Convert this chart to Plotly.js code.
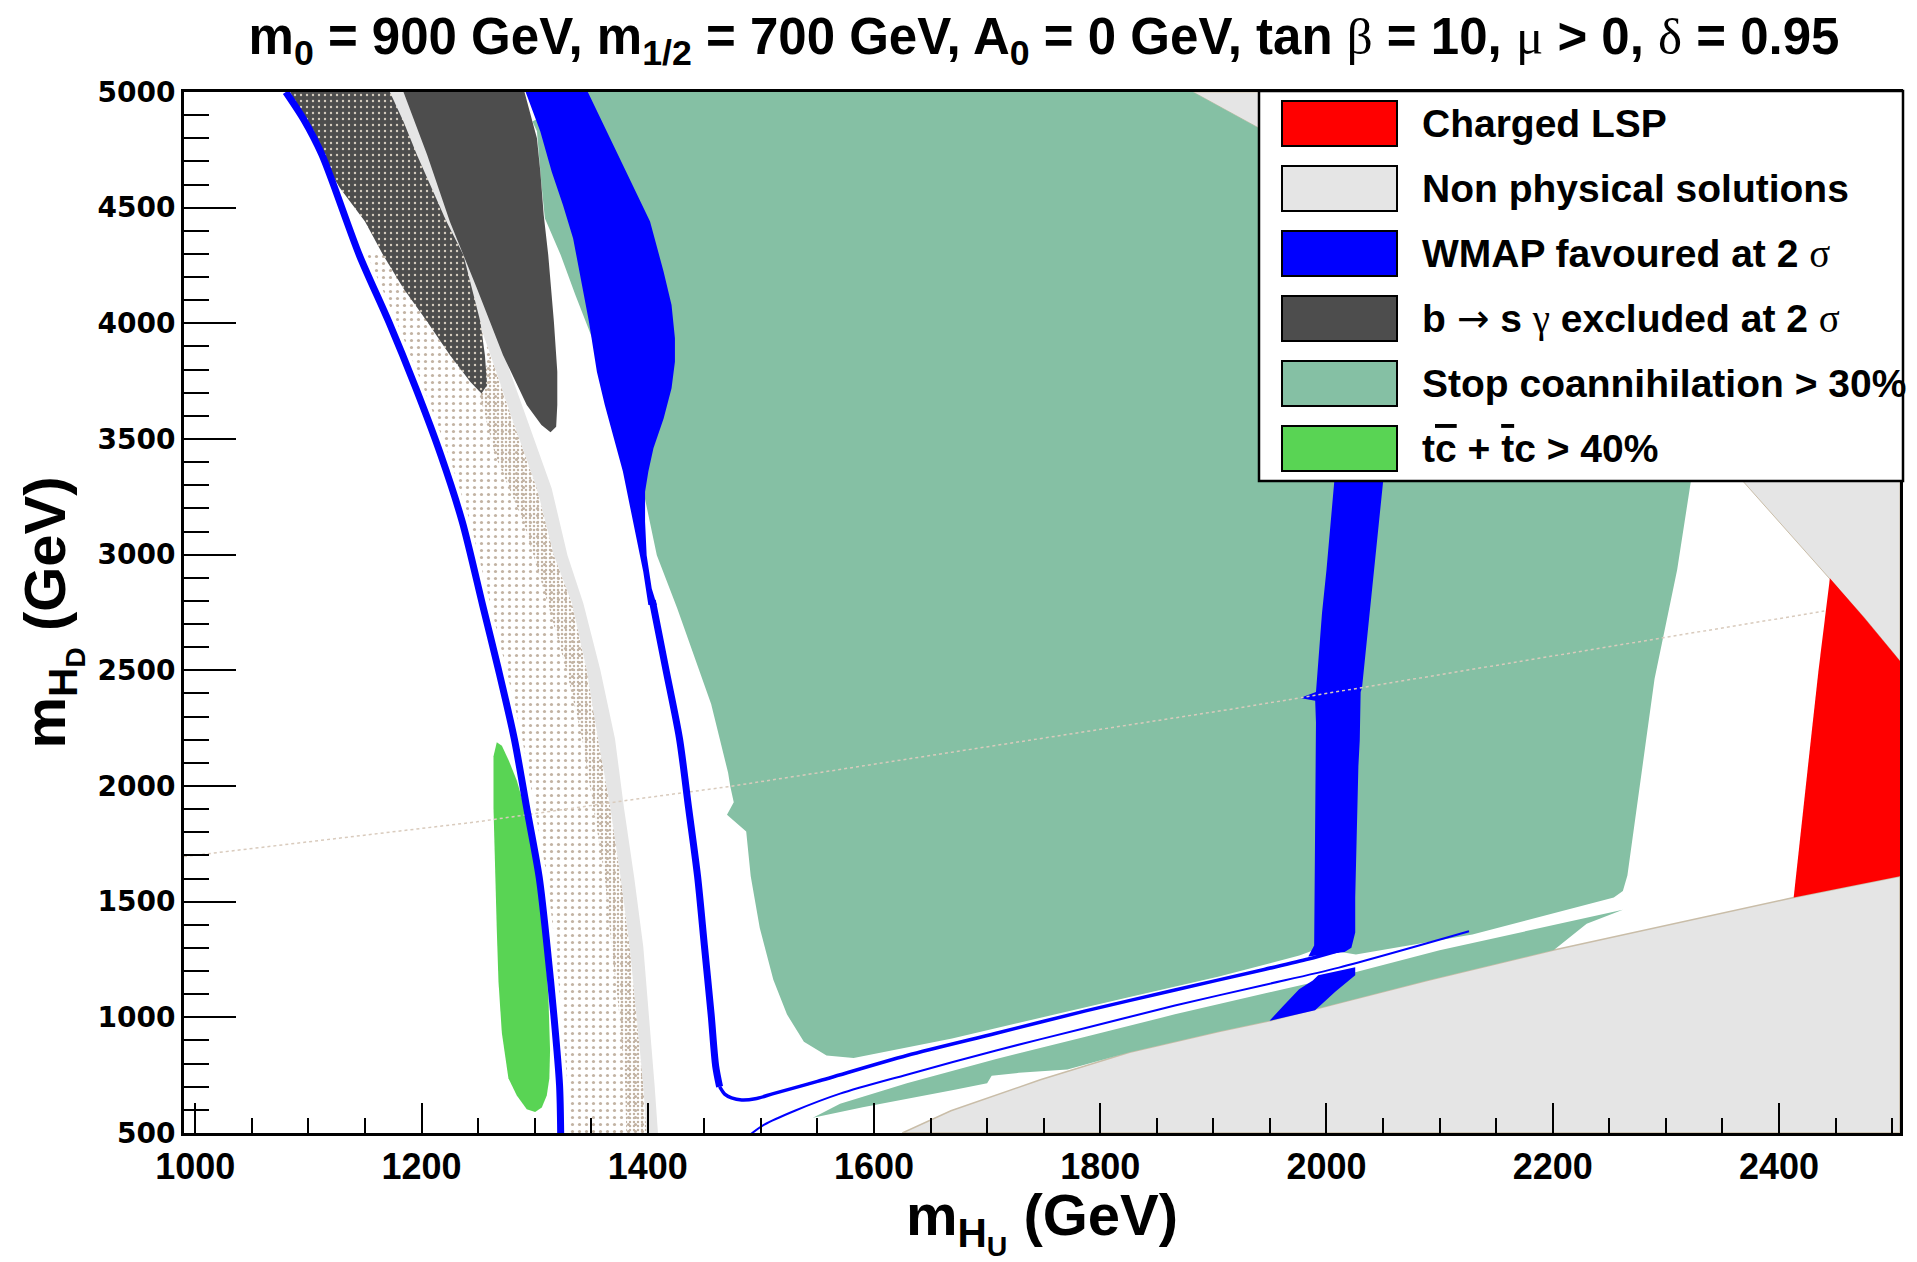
<!DOCTYPE html>
<html><head><meta charset="utf-8">
<script src="https://cdn.plot.ly/plotly-3.0.1.min.js"></script>
<style>body{margin:0;background:#fff}</style>
</head><body><div id="chart" style="width:1917px;height:1262px"></div>
<script>
// ---------------- data (GeV) ----------------
const xTicks = [1000,1200,1400,1600,1800,2000,2200,2400];
const yTicks = [500,1000,1500,2000,2500,3000,3500,4000,4500,5000];

const legendLabels = [
  'Charged LSP',
  'Non physical solutions',
  'WMAP favoured at 2 <span style="font-family:Liberation Serif;font-weight:normal">σ</span>',
  'b <span style="font-family:DejaVu Sans;font-weight:normal">→</span> s <span style="font-family:Liberation Serif;font-weight:normal">γ</span> excluded at 2 <span style="font-family:Liberation Serif;font-weight:normal">σ</span>',
  'Stop coannihilation &gt; 30%',
  't<span style="text-decoration:overline">c</span> + <span style="text-decoration:overline">t</span>c &gt; 40%'
];
const legendColors = ['#ff0000','#e5e5e5','#0000ff','#4d4d4d','#85c0a4','#59d454'];

// non physical solutions (light grey)
const nonPhysLowX = [1625,1668,1747,1826,1905,1950,2011,2089,2201,2290,2413,2507,2507,1625];
const nonPhysLowY = [500,596,730,849,939,985,1062,1159,1291,1386,1518,1610,500,500];
const nonPhysUpX = [1882,1938,2050,2200,2330,2369,2407,2445,2475,2501,2507,2507];
const nonPhysUpY = [5000,4850,4550,4050,3600,3313,3105,2898,2730,2576,2540,5000];
const nonPhysBandX = [1172,1196,1218,1240,1261,1281,1302,1317,1333,1346,1356,1367,1376,1384,1390,1396,1399,
                      1409,1406,1401,1396,1388,1379,1371,1358,1343,1329,1315,1294,1273,1250,1226,1206,1184];
const nonPhysBandY = [5000,4728,4440,4151,3863,3575,3287,2998,2790,2503,2204,1904,1605,1306,1007,707,500,
                      500,707,1007,1306,1605,1904,2204,2503,2790,2998,3287,3575,3863,4151,4440,4728,5000];

// scattered (speckled) points band
const speckleX = [1152,1178,1202,1224,1243,1261,1275,1289,1300,1311,1318,1324,1329,1329,
                  1399,1396,1390,1384,1376,1367,1356,1346,1333,1317,1302,1281,1261,1240,1225];
const speckleY = [4295,4007,3719,3431,3142,2782,2503,2204,1904,1605,1306,1007,707,500,
                  500,707,1007,1306,1605,1904,2204,2503,2790,2998,3287,3575,3863,4151,4440];
const speckleDenseX = [1250,1265,1290,1312,1328,1342,1352,1362,1368,1375,1380,1381,
                       1399,1396,1390,1384,1376,1367,1356,1346,1333,1317,1302,1281,1261];
const speckleDenseY = [3719,3431,3142,2782,2503,2204,1904,1605,1306,1007,707,500,
                       500,707,1007,1306,1605,1904,2204,2503,2790,2998,3287,3575,3863];

// b -> s gamma excluded (dark grey)
const bsg1X = [1084,1107,1128,1150,1166,1184,1205,1225,1243,1253,1258,1256,1252,1246,1237,1222,1209,1196,1184,1172];
const bsg1Y = [5000,4757,4584,4440,4295,4151,4007,3863,3748,3697,3733,3863,4007,4123,4295,4440,4584,4728,4872,5000];
const bsg2X = [1184,1205,1225,1249,1272,1293,1306,1314,1319,1320,1320,1317,1312,1308,1305,1302,1298,1291];
const bsg2Y = [5000,4728,4440,4151,3863,3647,3560,3529,3553,3647,3791,4007,4295,4468,4656,4800,4872,5000];

// stop coannihilation > 30% (sea green)
const stopMainX = [1344,1882,1938,2050,2200,2330,2322,2310,2298,2290,2282,2274,2266,2262,2254,2129,2048,2026,2010,
                   1988,1976,1905,1826,1747,1669,1582,1558,1538,1523,1511,1499,1491,1487,1470,1476,1473,1471,1456,1440,1426,
                   1408,1399,1395,1402,1411,1418,1421,1421,1418,1411,1399,1386,1372,1357];
const stopMainY = [5000,5000,4850,4550,4050,3500,3313,2935,2652,2463,2179,1896,1613,1546,1518,1358,1291,1272,1285,
                   1289,1267,1177,1088,998,909,824,835,894,1013,1163,1386,1610,1803,1876,1930,1997,2057,2355,2579,2768,
                   2998,3200,3300,3460,3589,3719,3834,3935,4079,4223,4440,4584,4728,4872];
const stopSliverX = [1298,1302,1306,1309,1323,1336,1352,1366,1352,1330,1308];
const stopSliverY = [4872,4830,4600,4454,4295,4123,3921,3880,4300,4600,4900];
const stopLowX = [1546,1570,1629,1708,1787,1866,1945,2011,2100,2200,2250,2262,2230,2201,2089,2011,1950,1905,1826,1771,1728,1704,1700,1669,1590];
const stopLowY = [566,626,715,820,916,1013,1103,1177,1290,1400,1452,1465,1405,1291,1159,1062,985,939,849,775,760,748,715,685,611];

// WMAP favoured (blue)
const wmapBandX = [1292,1305,1315,1325,1334,1342,1348,1355,1362,1370,1378,1384,1390,1396,1400.5,
                   1408,1403.5,1399,1397.6,1397.6,1400.5,1405,1414,1421,1424,1424,1421,1414,1402,1388,1374,1360,1347];
const wmapBandY = [5000,4829,4656,4512,4367,4151,4007,3791,3647,3503,3359,3215,3071,2926,2782,
                   2782,2854,2998,3143,3272,3359,3460,3589,3719,3834,3935,4079,4223,4440,4584,4728,4872,5000];
const wmapVertX = [2012,2006.8,2004,2000,1996,1992.7,1990.7,1976.6,1990,1990.7,1990.3,1989.9,1989.1,1983.9,
                   2016,2022,2025.4,2025.4,2026.2,2027,2028.2,2029.4,2030.2,2031.4,2034.2,2038.3,2042.3,2046.3,2050.3,2056];
const wmapVertY = [3600,3313,3124,2935,2746,2557,2406,2380,2368,2274,1896,1518,1310,1263,
                   1282,1301,1367,1518,1707,1896,2085,2198,2406,2425,2557,2746,2935,3124,3313,3600];
const wmapBlobX = [1992.7,2025.4,2025.4,2008,1989.9,1949.6,1961.7,1975.8,1987.9];
const wmapBlobY = [1182,1216,1182,1112,1031,985,1049,1121,1159];
const wmapLeftX = [1080,1096,1112,1145,1171,1195,1217,1236,1254,1268,1282,1293,1304,1311,1317,1322,1323];
const wmapLeftY = [5000,4880,4728,4295,4007,3719,3431,3142,2782,2503,2204,1904,1605,1306,1007,707,500];
const wmapStemX = [1404,1416,1428,1436,1444,1450,1456,1460,1463.5];
const wmapStemY = [2802,2504,2206,1908,1610,1312,1013,790,700];
const wmapCurveAX = [1463.5,1468,1474,1483,1495,1511,1550,1629,1708,1787,1866,1945,1984,2011];
const wmapCurveAY = [700,668,652,643,648,670,723,835,931,1028,1118,1207,1252,1289];
const wmapCurveBX = [1491,1503,1530,1570,1629,1708,1787,1866,1945,2011,2126];
const wmapCurveBY = [495,536,596,670,752,857,954,1051,1140,1215,1372];

// charged LSP (red)
const lspX = [2445,2441,2435,2429,2423,2417,2413,2507,2507,2501,2475];
const lspY = [2898,2746,2501,2236,1972,1707,1518,1610,2540,2576,2730];

// t cbar + tbar c > 40% (light green)
const tcX = [1266.5,1263.6,1263.6,1265,1266.5,1268,1271,1276.8,1284.2,1293,1300.4,1306.3,1310.7,1313,1313.6,1312.2,1309.2,1304.8,1299,1293,1284.2,1276.8,1271];
const tcY = [2189,2129,1904,1605,1381,1156,932,737,662,603,591,610,662,737,857,1081,1306,1530,1755,1875,2024,2114,2174];

// faint dotted artefact line
const artX = [990,1249,1392,1471,1917,2290,2440];
const artY = [1695,1845,1945,1997,2333,2633,2756];

// ---------------- drawing ----------------
function poly(x, y, color, extra) {
  return Object.assign({type:'scatter', mode:'lines', x:x.concat([x[0]]), y:y.concat([y[0]]),
    fill:'toself', fillcolor:color, line:{width:0, color:color}, hoverinfo:'skip', showlegend:false}, extra||{});
}
function line(x, y, color, w, extra) {
  return Object.assign({type:'scatter', mode:'lines', x:x, y:y, line:{color:color, width:w, shape:'spline', smoothing:0.8},
    hoverinfo:'skip', showlegend:false}, extra||{});
}

const traces = [
  poly(speckleX, speckleY, 'rgba(0,0,0,0)', {fillpattern:{shape:'.', fgcolor:'#c2b3a3', bgcolor:'rgba(255,255,255,0)', size:7, solidity:0.16}}),
  poly(speckleDenseX, speckleDenseY, 'rgba(0,0,0,0)', {fillpattern:{shape:'.', fgcolor:'#c2b3a3', bgcolor:'rgba(255,255,255,0)', size:4, solidity:0.3}}),
  poly(nonPhysBandX, nonPhysBandY, '#e5e5e5'),
  poly(nonPhysLowX, nonPhysLowY, '#e5e5e5', {line:{width:1.5, color:'#c9bda8'}}),
  poly(nonPhysUpX, nonPhysUpY, '#e5e5e5', {line:{width:1, color:'#c9bda8'}}),
  poly(stopMainX, stopMainY, '#85c0a4'),
  poly(stopSliverX, stopSliverY, '#85c0a4'),
  poly(stopLowX, stopLowY, '#85c0a4'),
  poly(bsg2X, bsg2Y, '#4d4d4d'),
  poly(bsg1X, bsg1Y, '#4d4d4d', {fillpattern:{shape:'.', fgcolor:'#d6cdbf', bgcolor:'#4d4d4d', size:6, solidity:0.12}}),
  poly(wmapBandX, wmapBandY, '#0000ff'),
  poly(wmapVertX, wmapVertY, '#0000ff'),
  poly(wmapBlobX, wmapBlobY, '#0000ff'),
  poly(lspX, lspY, '#ff0000'),
  poly(tcX, tcY, '#59d454'),
  line(artX, artY, '#d9cbbd', 1.5, {line:{color:'#d9cbbd', width:1.5, dash:'dot'}}),
  line(wmapLeftX, wmapLeftY, '#0000ff', 7),
  line(wmapStemX, wmapStemY, '#0000ff', 7),
  line(wmapCurveAX, wmapCurveAY, '#0000ff', 3.5),
  line(wmapCurveBX, wmapCurveBY, '#0000ff', 2)
];

// plot area in pixels
const L = 184, R = 1900, T = 92, B = 1133;
const W = 1917, H = 1262;
const fx = px => (px - L) / (R - L);
const fy = py => (B - py) / (B - T);

const shapes = [];
const annotations = [];
// legend box
shapes.push({type:'rect', xref:'paper', yref:'paper', x0:fx(1259), x1:fx(1903), y0:fy(481), y1:fy(91),
  fillcolor:'#ffffff', line:{color:'#000', width:2.5}, layer:'above'});
const rowTop = [101,166,231,296,361,426];
legendLabels.forEach((lab, i) => {
  shapes.push({type:'rect', xref:'paper', yref:'paper', x0:fx(1282), x1:fx(1397), y0:fy(rowTop[i]+45), y1:fy(rowTop[i]),
    fillcolor:legendColors[i], line:{color:'#000', width:2}, layer:'above'});
  annotations.push({xref:'paper', yref:'paper', x:fx(1420), y:fy(rowTop[i]+22.5), xanchor:'left', yanchor:'middle',
    text:lab, showarrow:false, font:{family:'Liberation Sans, Arial, sans-serif', size:39, weight:'bold', color:'#000'}});
});

const sp = s => '<span style="font-family:Liberation Serif;font-weight:normal">' + s + '</span>';
const titleText = 'm<sub>0</sub> = 900 GeV, m<sub>1/2</sub> = 700 GeV, A<sub>0</sub> = 0 GeV, tan ' + sp('β') +
  ' = 10, ' + sp('μ') + ' &gt; 0, ' + sp('δ') + ' = 0.95';

const layout = {
  width: W, height: H,
  margin: {l: L, r: W - R, t: T, b: H - B, pad: 0},
  paper_bgcolor: '#ffffff', plot_bgcolor: '#ffffff',
  showlegend: false, hovermode: false,
  title: {text: titleText, x: 1044 / W, xanchor: 'center', xref: 'container',
          y: 1 - 36 / H, yanchor: 'middle', yref: 'container',
          font: {family: 'Liberation Sans, Arial, sans-serif', size: 51, weight: 'bold', color: '#000'}},
  xaxis: {range: [990, 2507], tickvals: xTicks, ticktext: xTicks.map(String),
          ticks: 'inside', ticklen: 30, tickwidth: 2, tickcolor: '#000',
          minor: {dtick: 50, tick0: 1000, ticks: 'inside', ticklen: 15, tickwidth: 2, tickcolor: '#000', showgrid: false},
          showline: true, linewidth: 3, linecolor: '#000', mirror: true,
          showgrid: false, zeroline: false,
          tickfont: {family: 'Liberation Sans, Arial, sans-serif', size: 36, weight: 'bold', color: '#000'},
          title: {text: 'm<sub>H<sub>U</sub></sub> (GeV)', standoff: 28,
                  font: {family: 'Liberation Sans, Arial, sans-serif', size: 58, weight: 'bold', color: '#000'}}},
  yaxis: {range: [500, 5000], tickvals: yTicks, ticktext: yTicks.map(String),
          ticks: 'inside', ticklen: 52, tickwidth: 2, tickcolor: '#000',
          minor: {dtick: 100, tick0: 500, ticks: 'inside', ticklen: 25, tickwidth: 2, tickcolor: '#000', showgrid: false},
          showline: true, linewidth: 3, linecolor: '#000', mirror: true,
          showgrid: false, zeroline: false,
          tickfont: {family: 'DejaVu Sans, sans-serif', size: 28, weight: 'bold', color: '#000'},
          title: {text: 'm<sub>H<sub>D</sub></sub> (GeV)', standoff: 14,
                  font: {family: 'Liberation Sans, Arial, sans-serif', size: 58, weight: 'bold', color: '#000'}}},
  shapes: shapes,
  annotations: annotations
};

Plotly.newPlot('chart', traces, layout, {displayModeBar: false, staticPlot: true});
</script>
</body></html>
